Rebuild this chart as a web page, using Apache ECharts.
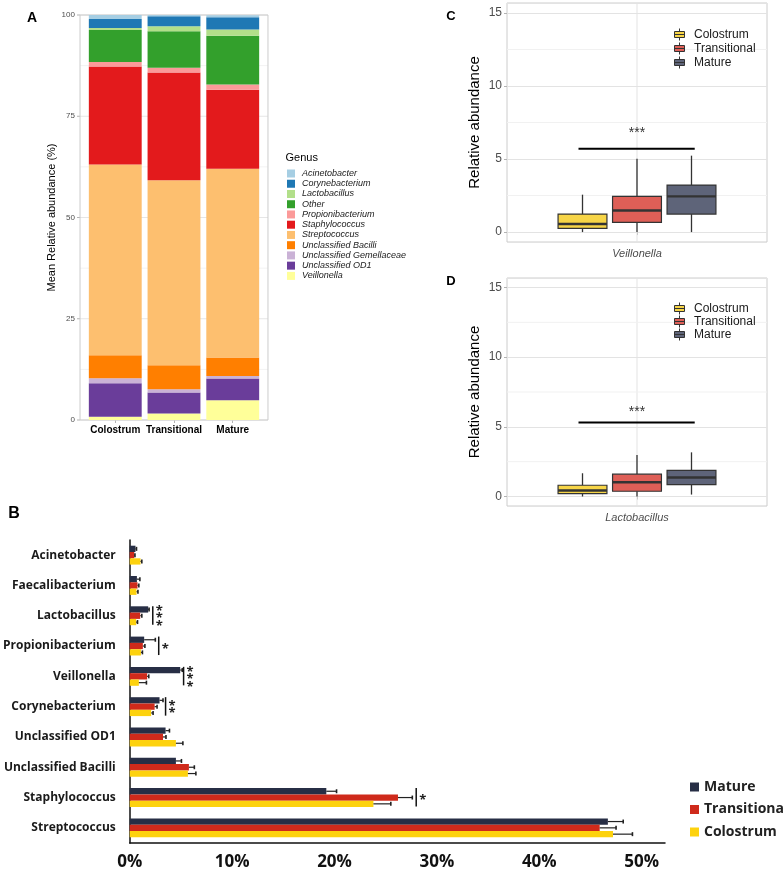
<!DOCTYPE html>
<html><head><meta charset="utf-8">
<script src="https://cdn.jsdelivr.net/npm/echarts@6/dist/echarts.min.js"></script>
<style>html,body{margin:0;padding:0;background:#fff}#c{width:784px;height:872px}</style>
</head><body><div id="c"></div>
<script>
// ---------------- Panel A : mean relative abundance (%) ----------------
const stages = ['Colostrum', 'Transitional', 'Mature'];
const genera = ['Acinetobacter', 'Corynebacterium', 'Lactobacillus', 'Other', 'Propionibacterium',
  'Staphylococcus', 'Streptococcus', 'Unclassified Bacilli', 'Unclassified Gemellaceae', 'Unclassified OD1', 'Veillonella'];
const genusColors = ['#A6CEE3', '#1F78B4', '#B2DF8A', '#33A02C', '#FB9A99', '#E31A1C', '#FDBF6F', '#FF7F00', '#CAB2D6', '#6A3D9A', '#FFFF99'];
const aAcinetobacter     = [1.0, 0.3, 0.5];
const aCorynebacterium   = [2.2, 2.5, 3.0];
const aLactobacillus     = [0.5, 1.2, 1.6];
const aOther             = [7.9, 9.0, 12.0];
const aPropionibacterium = [1.1, 1.2, 1.3];
const aStaphylococcus    = [24.2, 26.6, 19.5];
const aStreptococcus     = [47.1, 45.7, 46.6];
const aBacilli           = [5.7, 5.9, 4.6];
const aGemellaceae       = [1.2, 0.8, 0.6];
const aOD1               = [8.3, 5.2, 5.4];
const aVeillonella       = [0.8, 1.6, 4.85];
const aTicks = [0, 25, 50, 75, 100];
const aMinorGrid = [12.5, 37.5, 62.5, 87.5];

// ---------------- Panel B : mean relative abundance with SE ----------------
const bCategories = ['Acinetobacter', 'Faecalibacterium', 'Lactobacillus', 'Propionibacterium', 'Veillonella',
  'Corynebacterium', 'Unclassified OD1', 'Unclassified Bacilli', 'Staphylococcus', 'Streptococcus'];
const bMature           = [0.56, 0.70, 1.80, 1.41, 4.93, 2.91, 3.50, 4.51, 19.2, 46.7];
const bMatureErr        = [0.66, 0.99, 1.89, 2.50, 5.13, 3.25, 3.88, 5.05, 20.2, 48.2];
const bTransitional     = [0.44, 0.76, 1.02, 1.28, 1.70, 2.43, 3.25, 5.78, 26.2, 45.9];
const bTransitionalErr  = [0.51, 0.89, 1.18, 1.48, 1.86, 2.67, 3.54, 6.31, 27.6, 47.5];
const bColostrum        = [1.05, 0.66, 0.63, 1.09, 0.89, 2.09, 4.51, 5.68, 23.8, 47.2];
const bColostrumErr     = [1.18, 0.80, 0.76, 1.24, 1.63, 2.28, 5.19, 6.46, 25.5, 49.1];
const bSigCats   = ['Lactobacillus', 'Propionibacterium', 'Veillonella', 'Corynebacterium', 'Staphylococcus'];
const bSigX      = [2.25, 2.83, 5.26, 3.50, 27.98];
const bSigLabels = ['*\n*\n*', '*', '*\n*\n*', '*\n*', '*'];
const bTicks = [0, 10, 20, 30, 40, 50];

// ---------------- Panel C : Veillonella boxplot ----------------
const cCategory = ['Veillonella'];
const cColostrum    = [0, 0.25, 0.55, 1.23, 2.56];
const cTransitional = [0, 0.66, 1.48, 2.44, 5.02];
const cMature       = [0, 1.23, 2.44, 3.22, 5.23];
const cSigLine = 5.7, cSigText = 7.0;

// ---------------- Panel D : Lactobacillus boxplot ----------------
const dCategory = ['Lactobacillus'];
const dColostrum    = [0, 0.21, 0.43, 0.81, 1.67];
const dTransitional = [0, 0.38, 1.02, 1.60, 2.98];
const dMature       = [0.14, 0.86, 1.36, 1.88, 3.17];
const dSigLine = 5.31, dSigText = 6.3;

const boxMinorGrid = [2.5, 7.5, 12.5];
const boxColors = {Colostrum: '#F7D547', Transitional: '#DE5F57', Mature: '#5E6479'};
const barColors = {Mature: '#272E45', Transitional: '#CF2A1B', Colostrum: '#FDD20E'};

const FONT = 'Liberation Sans, Arial, sans-serif';
const FONTB = 'Open Sans, sans-serif';

const aValues = {
  'Acinetobacter': aAcinetobacter, 'Corynebacterium': aCorynebacterium, 'Lactobacillus': aLactobacillus,
  'Other': aOther, 'Propionibacterium': aPropionibacterium, 'Staphylococcus': aStaphylococcus,
  'Streptococcus': aStreptococcus, 'Unclassified Bacilli': aBacilli, 'Unclassified Gemellaceae': aGemellaceae,
  'Unclassified OD1': aOD1, 'Veillonella': aVeillonella
};

const chart = echarts.init(document.getElementById('c'));

// ---- Panel A series ----
// ggplot-like discrete expansion: extra 0.1 band on each side of the category range
const A_PAD = 0.1;
const aBackdrop = {
  type: 'custom', xAxisIndex: 0, yAxisIndex: 0, silent: true, z: 1, clip: false,
  data: aTicks.map(v => [0, v, 1]).concat(aMinorGrid.map(v => [0, v, 0])), encode: {x: 0, y: 1},
  renderItem: (params, api) => {
    const cs = params.coordSys;
    const band = api.size([1, 0])[0];
    const pad = band * A_PAD;
    const x0 = cs.x - pad, x1 = cs.x + cs.width + pad;
    const y = api.coord([0, api.value(1)])[1];
    const major = api.value(2) === 1;
    const children = [{type: 'line', shape: {x1: x0, y1: y, x2: x1, y2: y},
      style: {stroke: major ? '#e6e6e6' : '#f3f3f3', lineWidth: 1}}];
    if (major) {
      children.push({type: 'line', shape: {x1: x0 - 3, y1: y, x2: x0, y2: y}, style: {stroke: '#b3b3b3', lineWidth: 1}});
    }
    if (params.dataIndex === 0) {
      const yTop = api.coord([0, aTicks[aTicks.length - 1]])[1];
      children.push({type: 'rect', shape: {x: x0, y: yTop, width: x1 - x0, height: y - yTop},
        style: {fill: 'none', stroke: '#cccccc', lineWidth: 1}, z2: 100});
    }
    return {type: 'group', children};
  }
};
const seriesA = [aBackdrop].concat(genera.slice().reverse().map(g => ({
  name: g, type: 'bar', stack: 'A', xAxisIndex: 0, yAxisIndex: 0, z: 2,
  data: aValues[g], barCategoryGap: '10%',
  itemStyle: {color: genusColors[genera.indexOf(g)]},
  emphasis: {disabled: true}
})));

function backdropSeries(idx) {
  return {
    type: 'custom', xAxisIndex: idx, yAxisIndex: idx, silent: true, z: 1,
    data: boxMinorGrid.map(v => [0, v]), encode: {x: 0, y: 1},
    renderItem: (params, api) => {
      const cs = params.coordSys;
      const y = api.coord([0, api.value(1)])[1];
      const children = [{type: 'line', shape: {x1: cs.x, y1: y, x2: cs.x + cs.width, y2: y},
        style: {stroke: '#f1f1f1', lineWidth: 1}}];
      if (params.dataIndex === 0) {
        const cx = api.coord([0, 0])[0];
        children.push({type: 'line', shape: {x1: cx, y1: cs.y, x2: cx, y2: cs.y + cs.height},
          style: {stroke: '#e3e3e3', lineWidth: 1}});
      }
      return {type: 'group', children};
    }
  };
}

function boxSeries(idx, name, slot, vals) {
  const color = boxColors[name];
  return {
    type: 'custom', name, xAxisIndex: idx, yAxisIndex: idx, z: 3,
    data: [[0].concat(vals)], encode: {x: 0, y: [1, 2, 3, 4, 5]},
    itemStyle: {color: color, borderColor: '#333'},
    renderItem: (params, api) => {
      const band = api.size([1, 0])[0];
      const cx = api.coord([0, 0])[0] + slot * band * 0.2096;
      const hw = band * 0.094;
      const Y = i => api.coord([0, api.value(i)])[1];
      const ymin = Y(1), q1 = Y(2), med = Y(3), q3 = Y(4), ymax = Y(5);
      return {type: 'group', children: [
        {type: 'line', shape: {x1: cx, y1: ymax, x2: cx, y2: q3}, style: {stroke: '#333', lineWidth: 1.3}},
        {type: 'line', shape: {x1: cx, y1: q1, x2: cx, y2: ymin}, style: {stroke: '#333', lineWidth: 1.3}},
        {type: 'rect', shape: {x: cx - hw, y: q3, width: 2 * hw, height: q1 - q3},
          style: {fill: color, stroke: '#333', lineWidth: 1.2}},
        {type: 'line', shape: {x1: cx - hw, y1: med, x2: cx + hw, y2: med}, style: {stroke: '#333', lineWidth: 2.4}}
      ]};
    }
  };
}

function sigBoxSeries(idx, lineV, textV) {
  return {
    type: 'custom', xAxisIndex: idx, yAxisIndex: idx, silent: true, z: 4,
    data: [[0, lineV, textV]], encode: {x: 0, y: [1, 2]},
    renderItem: (params, api) => {
      const band = api.size([1, 0])[0];
      const cx = api.coord([0, 0])[0];
      const yl = api.coord([0, api.value(1)])[1];
      const yt = api.coord([0, api.value(2)])[1];
      return {type: 'group', children: [
        {type: 'line', shape: {x1: cx - 0.225 * band, y1: yl, x2: cx + 0.222 * band, y2: yl},
          style: {stroke: '#000', lineWidth: 2}},
        {type: 'text', x: cx, y: yt + 3, style: {text: '***', fontSize: 14, fontFamily: FONT, fill: '#333',
          align: 'center', verticalAlign: 'middle'}}
      ]};
    }
  };
}

const bGroups = [
  ['Mature', bMature, bMatureErr, -1],
  ['Transitional', bTransitional, bTransitionalErr, 0],
  ['Colostrum', bColostrum, bColostrumErr, 1]
];
const BAR_H = 6.3;
const seriesB = [];
bGroups.forEach(([name, vals]) => {
  seriesB.push({
    name, type: 'bar', xAxisIndex: 3, yAxisIndex: 3, data: vals,
    barWidth: BAR_H, barGap: '0%', itemStyle: {color: barColors[name]}, emphasis: {disabled: true}, z: 2
  });
});
bGroups.forEach(([name, vals, errs, slot]) => {
  seriesB.push({
    name: name + ' SE', type: 'custom', xAxisIndex: 3, yAxisIndex: 3, silent: true, z: 3,
    data: vals.map((v, i) => [i, v, errs[i]]), encode: {y: 0, x: [1, 2]},
    renderItem: (params, api) => {
      const p0 = api.coord([api.value(1), api.value(0)]);
      const p1 = api.coord([api.value(2), api.value(0)]);
      const y = p0[1] + slot * BAR_H;
      return {type: 'group', children: [
        {type: 'line', shape: {x1: p0[0], y1: y, x2: p1[0], y2: y}, style: {stroke: '#222', lineWidth: 1.2}},
        {type: 'line', shape: {x1: p1[0], y1: y - 2, x2: p1[0], y2: y + 2}, style: {stroke: '#222', lineWidth: 1.6}}
      ]};
    }
  });
});
seriesB.push({
  type: 'custom', xAxisIndex: 3, yAxisIndex: 3, silent: true, z: 4,
  data: bSigCats.map((c, i) => [bCategories.indexOf(c), bSigX[i], i]), encode: {y: 0, x: 1},
  renderItem: (params, api) => {
    const p = api.coord([api.value(1), api.value(0)]);
    const lbl = bSigLabels[api.value(2)];
    return {type: 'group', children: [
      {type: 'line', shape: {x1: p[0], y1: p[1] - 9.5, x2: p[0], y2: p[1] + 9}, style: {stroke: '#111', lineWidth: 1.5}},
      {type: 'text', x: p[0] + 3, y: p[1] + 3, style: {text: lbl, fontSize: 13, fontWeight: 'bold', fontFamily: FONTB,
        lineHeight: 7.5, fill: '#222', align: 'left', verticalAlign: 'middle'}}
    ]};
  }
});

const boxIcon = 'path://M0,3 L10,3 L10,9 L0,9 Z M0,6 L10,6 M5,0 L5,3 M5,9 L5,12';
function boxLegend(top, gap) {
  return {
    orient: 'vertical', left: 669, top: top, itemWidth: 11, itemHeight: 12, itemGap: gap, icon: boxIcon,
    selectedMode: false,
    textStyle: {fontSize: 12, fontFamily: FONT, color: '#1a1a1a', padding: [0, 0, 0, 4]},
    data: stages.map(s => ({name: s, itemStyle: {color: boxColors[s], borderColor: '#333', borderWidth: 1}}))
  };
}

const yBoxAxis = (idx) => ({
  type: 'value', gridIndex: idx, min: -0.68, max: 15.68, splitNumber: 3,
  axisLine: {show: false},
  axisTick: {show: true, length: 3, lineStyle: {color: '#b3b3b3'}},
  axisLabel: {fontSize: 12, fontFamily: FONT, color: '#4d4d4d', margin: 5, showMinLabel: false, showMaxLabel: false},
  splitLine: {show: true, lineStyle: {color: '#e3e3e3'}},
  name: 'Relative abundance', nameLocation: 'middle', nameGap: 25,
  nameTextStyle: {fontSize: 15, fontFamily: FONT, color: '#000'}
});
const xBoxAxis = (idx, data) => ({
  type: 'category', gridIndex: idx, data: data,
  axisLine: {show: false},
  axisTick: {show: true, alignWithLabel: true, length: 3, lineStyle: {color: '#b3b3b3'}},
  axisLabel: {fontSize: 11, fontStyle: 'italic', fontFamily: FONT, color: '#4d4d4d', margin: 6},
  splitLine: {show: false}
});

const option = {
  animation: false,
  backgroundColor: '#fff',
  grid: [
    {left: 85.9, right: 521.9, top: 15, bottom: 452},
    {left: 507, right: 17, top: 3, bottom: 630, show: true, borderColor: '#cccccc', borderWidth: 1, backgroundColor: 'transparent'},
    {left: 507, right: 17, top: 278, bottom: 366, show: true, borderColor: '#cccccc', borderWidth: 1, backgroundColor: 'transparent'},
    {left: 126.5, right: 119, top: 540, bottom: 29}
  ],
  xAxis: [
    {type: 'category', gridIndex: 0, data: stages, axisLine: {show: false},
      axisTick: {show: true, alignWithLabel: true, length: 3, lineStyle: {color: '#b3b3b3'}},
      axisLabel: {fontSize: 10, fontWeight: 'bold', fontFamily: FONT, color: '#000', margin: 5, interval: 0},
      splitLine: {show: false}},
    xBoxAxis(1, cCategory),
    xBoxAxis(2, dCategory),
    {type: 'value', gridIndex: 3, min: 0, max: 52.28, interval: 10,
      axisLine: {show: true, lineStyle: {color: '#111', width: 1.5}},
      axisTick: {show: false}, splitLine: {show: false},
      axisLabel: {fontSize: 17, fontWeight: 'bold', fontFamily: FONTB, color: '#111', margin: 11, showMaxLabel: false,
        formatter: v => (bTicks.indexOf(v) >= 0 ? v + '%' : '')}}
  ],
  yAxis: [
    {type: 'value', gridIndex: 0, min: aTicks[0], max: aTicks[aTicks.length - 1], interval: 25,
      axisLine: {show: false}, axisTick: {show: false}, splitLine: {show: false},
      axisLabel: {fontSize: 8, fontFamily: FONT, color: '#4d4d4d', margin: 11},
      name: 'Mean Relative abundance (%)', nameLocation: 'middle', nameGap: 28,
      nameTextStyle: {fontSize: 11, fontFamily: FONT, color: '#000'}},
    yBoxAxis(1),
    yBoxAxis(2),
    {type: 'category', gridIndex: 3, data: bCategories, inverse: true,
      axisLine: {show: true, lineStyle: {color: '#111', width: 1.5}},
      axisTick: {show: false}, splitLine: {show: false},
      axisLabel: {fontSize: 12, fontWeight: 'bold', fontFamily: FONTB, color: '#1a1a1a', margin: 14}}
  ],
  legend: [
    {orient: 'vertical', left: 282, top: 164, itemWidth: 8, itemHeight: 8, itemGap: 1.24, icon: 'rect',
      selectedMode: false,
      textStyle: {fontSize: 9, fontStyle: 'italic', fontFamily: FONT, color: '#1a1a1a', padding: [0, 0, 0, 2]},
      data: genera},
    boxLegend(23, 1),
    boxLegend(297, 0),
    {orient: 'vertical', left: 685, top: 775, itemWidth: 9, itemHeight: 9, itemGap: 8.5, icon: 'rect',
      selectedMode: false,
      textStyle: {fontSize: 14, fontWeight: 'bold', fontFamily: FONTB, color: '#222'},
      data: ['Mature', 'Transitional', 'Colostrum'].map(s => ({name: s, itemStyle: {color: barColors[s]}}))}
  ],
  graphic: [
    {type: 'text', x: 32, y: 18, style: {text: 'A', fontSize: 14, fontWeight: 'bold', fontFamily: FONT, fill: '#000', align: 'center', verticalAlign: 'middle'}},
    {type: 'text', x: 14, y: 514, style: {text: 'B', fontSize: 16, fontWeight: 'bold', fontFamily: FONT, fill: '#000', align: 'center', verticalAlign: 'middle'}},
    {type: 'text', x: 451, y: 16, style: {text: 'C', fontSize: 13, fontWeight: 'bold', fontFamily: FONT, fill: '#000', align: 'center', verticalAlign: 'middle'}},
    {type: 'text', x: 451, y: 281, style: {text: 'D', fontSize: 13, fontWeight: 'bold', fontFamily: FONT, fill: '#000', align: 'center', verticalAlign: 'middle'}},
    {type: 'text', x: 285.5, y: 158, style: {text: 'Genus', fontSize: 11, fontFamily: FONT, fill: '#000', align: 'left', verticalAlign: 'middle'}}
  ],
  series: [].concat(
    seriesA,
    [backdropSeries(1),
     boxSeries(1, 'Colostrum', -1, cColostrum), boxSeries(1, 'Transitional', 0, cTransitional), boxSeries(1, 'Mature', 1, cMature),
     sigBoxSeries(1, cSigLine, cSigText),
     backdropSeries(2),
     boxSeries(2, 'Colostrum', -1, dColostrum), boxSeries(2, 'Transitional', 0, dTransitional), boxSeries(2, 'Mature', 1, dMature),
     sigBoxSeries(2, dSigLine, dSigText)],
    seriesB
  )
};
chart.setOption(option);
</script>
</body></html>
